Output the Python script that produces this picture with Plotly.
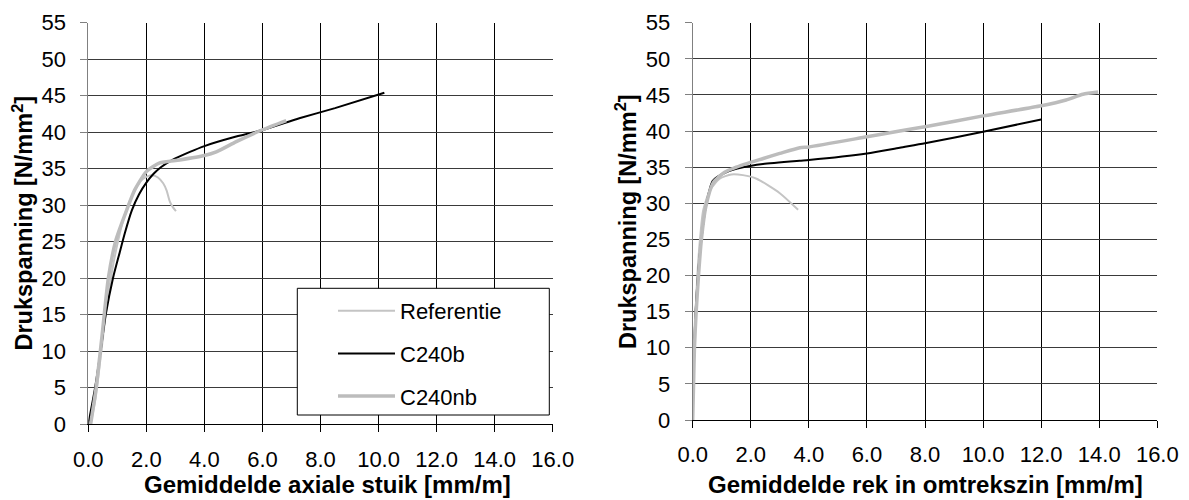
import plotly.graph_objects as go

# ---- Left chart: Gemiddelde axiale stuik ----
ref_ax_x = [0.08, 0.25, 0.45, 0.63, 0.82, 1.02, 1.28, 1.55, 1.8, 2.0, 2.2, 2.4, 2.58, 2.7, 2.8, 2.9, 3.02]
ref_ax_y = [0, 3.5, 10, 16, 21, 25, 29, 31.6, 33.3, 33.9, 34.1, 33.8, 33.0, 32.0, 30.6, 29.8, 29.2]

b_ax_x = [0, 0.23, 0.42, 0.60, 0.85, 1.08, 1.26, 1.5, 1.75, 2.0, 2.25, 2.5, 2.9, 3.5, 4.0, 5.0, 6.0, 7.27, 8.5, 10.2]
b_ax_y = [0, 4.9, 9.9, 15.0, 20.0, 23.5, 26.2, 29.3, 31.5, 33.1, 34.3, 35.2, 36.2, 37.3, 38.1, 39.3, 40.3, 41.9, 43.3, 45.4]

nb_ax_x = [0.08, 0.27, 0.47, 0.69, 0.95, 1.32, 1.6, 2.0, 2.46, 3.15, 4.0, 4.41, 5.1, 5.98, 6.82]
nb_ax_y = [0, 5, 12, 20, 25.2, 29.3, 32.1, 34.6, 35.8, 36.2, 36.8, 37.3, 38.7, 40.3, 41.6]

# ---- Right chart: Gemiddelde rek in omtrekszin ----
ref_om_x = [0, 0.02, 0.05, 0.1, 0.16, 0.25, 0.36, 0.59, 0.93, 1.33, 1.73, 2.2, 3.0, 3.63]
ref_om_y = [0, 5, 10, 15, 20, 25, 29.0, 31.8, 33.4, 34.0, 33.9, 33.4, 31.4, 29.1]

b_om_x = [0, 0.02, 0.05, 0.1, 0.18, 0.3, 0.45, 0.69, 1.15, 1.73, 2.42, 3.68, 4.0, 6.0, 7.13, 8.0, 10.0, 12.0]
b_om_y = [0, 5, 10, 15, 20, 25, 29.5, 33.1, 34.3, 35.0, 35.45, 35.9, 36.0, 36.9, 37.7, 38.3, 39.9, 41.6]

nb_om_x = [0, 0.03, 0.06, 0.12, 0.2, 0.3, 0.45, 0.7, 1.1, 1.5, 1.86, 2.43, 3.0, 3.69, 4.0, 6.0, 7.13, 8.0, 10.0, 12.0, 12.86, 13.44, 13.96]
nb_om_y = [0, 5, 10, 15, 20, 25, 29.5, 32.8, 34.3, 35.0, 35.5, 36.2, 36.9, 37.7, 37.8, 39.2, 40.0, 40.6, 42.1, 43.5, 44.3, 45.1, 45.4]

series_names = ["Referentie", "C240b", "C240nb"]
x_ticks = [0, 2, 4, 6, 8, 10, 12, 14, 16]
y_ticks = [0, 5, 10, 15, 20, 25, 30, 35, 40, 45, 50, 55]
x_title_left = "Gemiddelde axiale stuik [mm/m]"
x_title_right = "Gemiddelde rek in omtrekszin [mm/m]"
y_title = "Drukspanning [N/mm<sup>2</sup>]"

FONT = "Liberation Sans, Arial, sans-serif"
W, H = 1189, 500

styles = [
    dict(color="#c4c4c4", width=2),
    dict(color="#000000", width=2),
    dict(color="#bcbcbc", width=3.5),
]

fig = go.Figure()
left = [(ref_ax_x, ref_ax_y), (b_ax_x, b_ax_y), (nb_ax_x, nb_ax_y)]
right = [(ref_om_x, ref_om_y), (b_om_x, b_om_y), (nb_om_x, nb_om_y)]
for i, (name, (xs, ys)) in enumerate(zip(series_names, left)):
    fig.add_trace(go.Scatter(x=xs, y=ys, mode="lines", name=name,
                             line=dict(**styles[i], shape="spline", smoothing=0.6),
                             xaxis="x", yaxis="y", legendgroup=name, showlegend=True))
for i, (name, (xs, ys)) in enumerate(zip(series_names, right)):
    fig.add_trace(go.Scatter(x=xs, y=ys, mode="lines", name=name,
                             line=dict(**styles[i], shape="spline", smoothing=0.6),
                             xaxis="x2", yaxis="y2", legendgroup=name, showlegend=False))


def px_x(p):
    return p / W


def px_y(p):
    return 1 - p / H


TICK = 22
xcommon = dict(range=[0, 16], tickvals=x_ticks, tickformat=".1f", showgrid=True, gridcolor="#000000", gridwidth=1,
               zeroline=False, showline=True, linecolor="#000000", ticks="outside", ticklen=7, tickcolor="#000000",
               tickfont=dict(family=FONT, size=TICK, color="#000000"), ticklabelstandoff=8,
               automargin=False, fixedrange=True)
ycommon = dict(range=[0, 55], tickvals=y_ticks, showgrid=True, gridcolor="#3a3a3a", gridwidth=1,
               zeroline=False, showline=True, linecolor="#808080", ticks="outside", ticklen=7, tickcolor="#808080",
               tickfont=dict(family=FONT, size=TICK, color="#000000"), ticklabelstandoff=10,
               automargin=False, fixedrange=True)

xt_font = dict(family=FONT, size=24, color="#000000")
yt_font = dict(family=FONT, size=23.5, color="#000000")

fig.update_layout(
    template="none",
    width=W, height=H, margin=dict(l=0, r=0, t=0, b=0, pad=0, autoexpand=False),
    paper_bgcolor="white", plot_bgcolor="white",
    xaxis=dict(domain=[px_x(88.3), px_x(552.7)], anchor="y", **xcommon),
    yaxis=dict(domain=[px_y(424.2), px_y(22.7)], anchor="x", **ycommon),
    xaxis2=dict(domain=[px_x(692.7), px_x(1157.3)], anchor="y2", **xcommon),
    yaxis2=dict(domain=[px_y(420.0), px_y(22.7)], anchor="x2", **ycommon),
    showlegend=True,
    legend=dict(x=px_x(333), y=px_y(290), xanchor="left", yanchor="top", bgcolor="rgba(0,0,0,0)",
                borderwidth=0, font=dict(family=FONT, size=TICK, color="#000000"),
                tracegroupgap=11, itemwidth=57, traceorder="grouped"),
    shapes=[dict(type="rect", xref="paper", yref="paper", x0=px_x(297.3), x1=px_x(549.3),
                 y0=px_y(415), y1=px_y(288.3), line=dict(color="#000000", width=1),
                 fillcolor="white", layer="above")],
    annotations=[
        dict(text="<b>%s</b>" % x_title_left, x=px_x(327), y=px_y(499.5), xref="paper", yref="paper",
             showarrow=False, xanchor="center", yanchor="bottom", font=xt_font),
        dict(text="<b>%s</b>" % x_title_right, x=px_x(925), y=px_y(499.5), xref="paper", yref="paper",
             showarrow=False, xanchor="center", yanchor="bottom", font=xt_font),
        dict(text="<b>%s</b>" % y_title, x=px_x(22), y=px_y(223.5), xref="paper", yref="paper", textangle=-90,
             showarrow=False, xanchor="center", yanchor="middle", font=yt_font),
        dict(text="<b>%s</b>" % y_title, x=px_x(625.5), y=px_y(221.5), xref="paper", yref="paper", textangle=-90,
             showarrow=False, xanchor="center", yanchor="middle", font=yt_font),
    ],
)

fig.write_html("out.html")
